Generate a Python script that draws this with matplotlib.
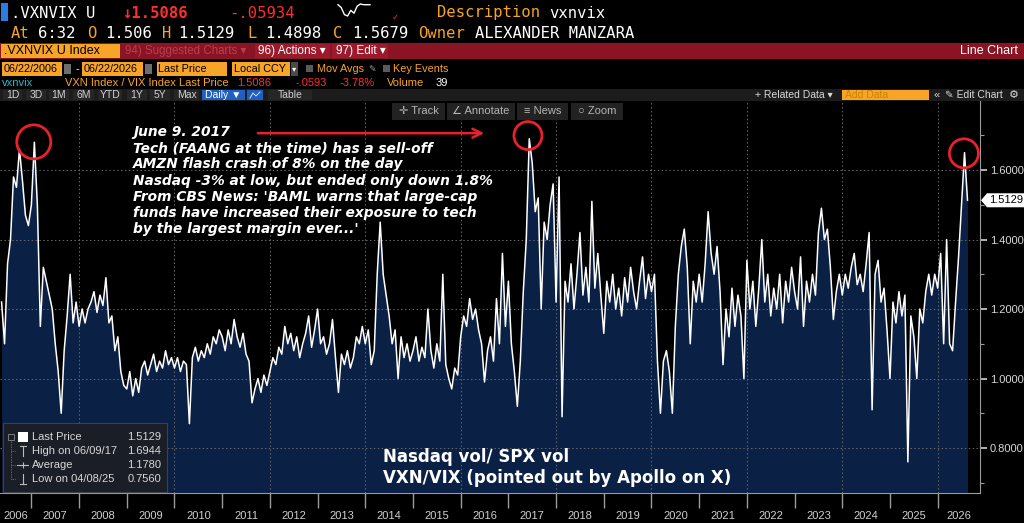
import numpy as np
import matplotlib
matplotlib.use('Agg')
import matplotlib.pyplot as plt
from matplotlib.patches import Rectangle, Polygon

plt.rcParams['font.family'] = ['Liberation Sans', 'DejaVu Sans']
MONO = ['DejaVu Sans Mono', 'DejaVu Sans']

# VXN / VIX ratio, one value every 1/16 of a year
t_start = 2006.375
t_step = 1 / 16
v2006 = [1.22, 1.10, 1.33, 1.40, 1.58, 1.55, 1.66, 1.57, 1.47, 1.44]
v2007 = [1.50, 1.68, 1.50, 1.15, 1.32, 1.28, 1.24, 1.20, 1.10, 1.02, 0.90, 1.08, 1.18, 1.30, 1.16, 1.22]
v2008 = [1.15, 1.20, 1.16, 1.20, 1.22, 1.25, 1.19, 1.24, 1.21, 1.29, 1.16, 1.18, 1.08, 1.12, 1.02, 0.98]
v2009 = [0.97, 1.02, 0.95, 1.00, 0.96, 1.03, 1.05, 1.01, 1.04, 1.07, 1.02, 1.05, 1.03, 1.08, 1.04, 1.06]
v2010 = [1.03, 1.06, 1.02, 1.05, 1.04, 0.87, 1.06, 1.09, 1.05, 1.08, 1.06, 1.10, 1.07, 1.12, 1.10, 1.14]
v2011 = [1.12, 1.08, 1.14, 1.10, 1.17, 1.12, 1.09, 1.13, 1.07, 1.05, 0.93, 0.97, 1.00, 0.96, 1.01, 0.98]
v2012 = [1.02, 1.06, 1.04, 1.09, 1.07, 1.15, 1.10, 1.13, 1.08, 1.12, 1.06, 1.10, 1.13, 1.18, 1.09, 1.14]
v2013 = [1.20, 1.10, 1.12, 1.07, 1.10, 1.17, 1.06, 0.96, 1.07, 1.04, 1.08, 1.03, 1.06, 1.12, 1.10, 1.15]
v2014 = [1.10, 1.14, 1.04, 1.08, 1.30, 1.45, 1.30, 1.24, 1.18, 1.10, 1.14, 1.00, 1.12, 1.06, 1.10, 1.05]
v2015 = [1.08, 1.12, 1.05, 1.09, 1.06, 1.20, 1.08, 1.03, 1.10, 1.05, 1.30, 1.04, 1.00, 0.97, 1.03, 1.01]
v2016 = [1.12, 1.18, 1.15, 1.23, 1.17, 1.20, 1.14, 1.10, 0.99, 1.08, 1.12, 1.05, 1.23, 1.10, 1.36, 1.15]
v2017 = [1.28, 1.10, 1.02, 0.92, 1.05, 1.25, 1.40, 1.69, 1.62, 1.48, 1.52, 1.20, 1.45, 1.40, 1.50, 1.56]
v2018 = [1.22, 1.58, 0.89, 1.28, 1.22, 1.33, 1.20, 1.30, 1.42, 1.24, 1.32, 1.22, 1.51, 1.26, 1.36, 1.24]
v2019 = [1.13, 1.28, 1.22, 1.30, 1.20, 1.26, 1.18, 1.29, 1.22, 1.32, 1.25, 1.20, 1.28, 1.35, 1.23, 1.30]
v2020 = [1.25, 1.30, 1.05, 0.90, 1.05, 1.08, 1.02, 0.90, 1.15, 1.30, 1.38, 1.43, 1.32, 1.10, 1.28, 1.22]
v2021 = [1.30, 1.22, 1.33, 1.48, 1.36, 1.30, 1.38, 1.25, 1.04, 1.20, 1.12, 1.26, 1.15, 1.24, 1.18, 1.00]
v2022 = [1.34, 1.20, 1.28, 1.15, 1.26, 1.40, 1.22, 1.30, 1.18, 1.26, 1.20, 1.30, 1.16, 1.28, 1.22, 1.32]
v2023 = [1.25, 1.20, 1.35, 1.15, 1.28, 1.22, 1.30, 1.24, 1.42, 1.49, 1.40, 1.43, 1.32, 1.17, 1.25, 1.30]
v2024 = [1.24, 1.30, 1.26, 1.32, 1.36, 1.27, 1.30, 1.25, 1.33, 1.42, 0.91, 1.30, 1.34, 1.22, 1.26, 1.14]
v2025 = [1.00, 1.22, 1.16, 1.25, 1.18, 1.24, 0.76, 1.18, 1.12, 1.00, 1.20, 1.16, 1.25, 1.30, 1.24, 1.30]
v2026 = [1.26, 1.36, 1.10, 1.40, 1.10, 1.08, 1.22, 1.35, 1.50, 1.65, 1.5129]

year_edges = list(range(2007, 2027))
year_labels = [str(y) for y in range(2006, 2027)]
y_ticks = [0.8, 1.0, 1.2, 1.4, 1.6]
y_minor = [0.7, 0.9, 1.1, 1.3, 1.5, 1.7]
x_lim = (2006.342, 2026.887)
y_lim = (0.6705, 1.7986)

last_price = 1.5129
legend_rows = [('Last Price', '1.5129'), ('High on 06/09/17', '1.6944'),
               ('Average', '1.1780'), ('Low on 04/08/25', '0.7560')]

# red circles around the three peaks (date, value, radius in px)
circle_t = [2007.05, 2017.41, 2026.55]
circle_v = [1.681, 1.699, 1.648]
circle_r = [17, 14, 14.5]

note_lines = ["June 9. 2017",
              "Tech (FAANG at the time) has a sell-off",
              "AMZN flash crash of 8% on the day",
              "Nasdaq -3% at low, but ended only down 1.8%",
              "From CBS News: 'BAML warns that large-cap",
              "funds have increased their exposure to tech",
              "by the largest margin ever...'"]
caption_lines = ["Nasdaq vol/ SPX vol", "VXN/VIX (pointed out by Apollo on X)"]

spark_vals = [1.57, 1.55, 1.50, 1.49, 1.53, 1.51, 1.56, 1.575, 1.57, 1.57, 1.57]

ORANGE = '#f7a428'
RED = '#ff2e2e'
NAVY = '#0a2045'

values = (v2006 + v2007 + v2008 + v2009 + v2010 + v2011 + v2012 + v2013 + v2014 + v2015
          + v2016 + v2017 + v2018 + v2019 + v2020 + v2021 + v2022 + v2023 + v2024 + v2025 + v2026)
t = t_start + t_step * np.arange(len(values))

fig = plt.figure(figsize=(10.24, 5.23), dpi=100, facecolor='black')
bg = fig.add_axes([0, 0, 1, 1], zorder=0)
bg.set_xlim(0, 1024)
bg.set_ylim(523, 0)
bg.axis('off')

ax = fig.add_axes([0, 30 / 523, 980 / 1024, 392 / 523], zorder=1)
top = fig.add_axes([0, 0, 1, 1], zorder=2)
top.set_xlim(0, 1024)
top.set_ylim(523, 0)
top.axis('off')


def txt(a, x, y, s, color='white', size=8, ha='left', family=None, **kw):
    a.text(x, y, s, color=color, fontsize=size, ha=ha, va='center',
           family=family if family else plt.rcParams['font.family'], **kw)


def box(a, x0, y0, x1, y1, color, **kw):
    a.add_patch(Rectangle((x0, y0), x1 - x0, y1 - y0, facecolor=color, edgecolor='none', **kw))


# ---- header rows ----
box(bg, 1, 3, 8, 21, '#2a7de1')
txt(bg, 11, 13, '.VXNVIX U', size=11.2, family=MONO)
txt(bg, 122, 13, '↓1.5086', RED, size=11.2, family=MONO, weight='bold')
txt(bg, 229, 13, '-.05934', RED, size=11.2, family=MONO)
sp = np.array(spark_vals)
sx = np.linspace(338, 370, len(sp))
bg.plot(sx, 4 + (sp.max() - sp) / (sp.max() - sp.min()) * 12, color='white', lw=1)
txt(bg, 392, 17, '✓', RED, size=6, family=['DejaVu Sans'])
txt(bg, 437, 13, 'Description', ORANGE, size=11.2, family=MONO)
txt(bg, 549, 13, 'vxnvix', size=11.2, family=MONO)

row2 = [(11, 'At', ORANGE), (38, '6:32', 'white'), (87, 'O', ORANGE), (105, '1.506', 'white'),
        (162, 'H', ORANGE), (178, '1.5129', 'white'), (247, 'L', ORANGE), (265, '1.4898', 'white'),
        (333, 'C', ORANGE), (352, '1.5679', 'white'), (418, 'Owner', ORANGE),
        (475, 'ALEXANDER MANZARA', 'white')]
for x, s, c in row2:
    txt(bg, x, 33, s, c, size=11.2, family=MONO)

# red command bar
box(bg, 0, 43, 1024, 59, '#8a1424')
box(bg, 1, 44, 120, 58, ORANGE)
txt(bg, 4, 51, '.VXNVIX U Index', 'black', size=9)
txt(bg, 125, 51, '94) Suggested Charts ▾', '#b5404e', size=8.3)
box(bg, 255, 44, 330, 58, '#9c1a2c')
box(bg, 332, 44, 388, 58, '#9c1a2c')
txt(bg, 258, 51, '96) Actions ▾', size=8.5)
txt(bg, 336, 51, '97) Edit ▾', size=8.5)
txt(bg, 1018, 51, 'Line Chart', size=9, ha='right')

# date / settings row
for x0, x1, s in [(2, 62, '06/22/2006'), (82, 143, '06/22/2026'),
                  (157, 227, 'Last Price'), (232, 290, 'Local CCY')]:
    box(bg, x0, 62, x1, 76, ORANGE)
    txt(bg, x0 + 1.5, 69, s, 'black', size=7.8)
box(bg, 64, 64, 71, 74, '#6e6e6e')
box(bg, 145, 64, 152, 74, '#6e6e6e')
txt(bg, 75, 69, '-', size=8)
box(bg, 291, 62, 298, 76, '#4a4a4a')
txt(bg, 294.5, 69, '▾', size=6, ha='center', family=['DejaVu Sans'])
box(bg, 306, 65, 313, 72, '#5a5a5a')
txt(bg, 317, 69, 'Mov Avgs', ORANGE, size=7.8)
txt(bg, 368, 69, '✎', '#9a9a9a', size=6.5, family=['DejaVu Sans'])
box(bg, 383, 65, 390, 72, '#5a5a5a')
txt(bg, 393, 69, 'Key Events', ORANGE, size=7.8)

# security description row
txt(bg, 2, 83, 'vxnvix', '#2fb5c9', size=8)
txt(bg, 65, 83, 'VXN Index / VIX Index Last Price', ORANGE, size=8)
txt(bg, 237, 83, '1.5086', RED, size=8)
txt(bg, 295, 83, '-.0593', RED, size=8)
txt(bg, 340, 83, '-3.78%', RED, size=8)
txt(bg, 387, 83, 'Volume', ORANGE, size=8)
txt(bg, 436, 83, '39', size=8)

# period buttons row
box(bg, 0, 89, 1024, 101, '#1c1c1c')
for s, x0, x1 in [('1D', 3, 22), ('3D', 26, 46), ('1M', 49, 69), ('6M', 73, 94),
                  ('YTD', 98, 122), ('1Y', 127, 147), ('5Y', 150, 170), ('Max', 174, 199),
                  ('Table', 268, 312)]:
    box(bg, x0, 90, x1, 100, '#262626')
    txt(bg, (x0 + x1) / 2, 95, s, '#d0d0d0', size=7.5, ha='center')
box(bg, 202, 90, 245, 100, '#1f5fc2')
txt(bg, 223.5, 95, 'Daily ▼', size=7.5, ha='center')
box(bg, 247, 90, 263, 100, '#1f5fc2')
bg.plot([250, 253, 256, 260], [98, 93, 96, 92], color='#cfe0ff', lw=0.7)
txt(bg, 755, 95, '+ Related Data ▾', '#d8d8d8', size=7.5)
box(bg, 842, 90, 929, 100, ORANGE)
txt(bg, 845, 95, 'Add Data', '#c98400', size=7.5)
txt(bg, 933, 95, '«', '#d8d8d8', size=8)
txt(bg, 945, 95, '✎ Edit Chart', '#d8d8d8', size=7.5)
txt(bg, 1014, 95, '⚙', '#d8d8d8', size=8, ha='center', family=['DejaVu Sans'])

# ---- main chart ----
ax.set_facecolor('black')
ax.set_xlim(*x_lim)
ax.set_ylim(*y_lim)
ax.fill_between(t, values, y_lim[0], color=NAVY, lw=0, zorder=1)
for y in y_ticks:
    ax.axhline(y, color='#6a6a6a', lw=0.7, ls=(0, (1.5, 2.5)), zorder=1.5)
for yr in year_edges[1::2]:
    ax.axvline(yr, color='#6a6a6a', lw=0.7, ls=(0, (1.5, 2.5)), zorder=1.5)
ax.plot(t, values, color='white', lw=1.1, zorder=2)

for s in ['left', 'top']:
    ax.spines[s].set_visible(False)
for s in ['right', 'bottom']:
    ax.spines[s].set_color('#9a9a9a')

ax.yaxis.tick_right()
ax.set_yticks(y_ticks, labels=[f'{v:.4f}' for v in y_ticks])
ax.set_yticks(y_minor, minor=True)
ax.tick_params(axis='y', which='major', length=5, width=1.2, color='#d0d0d0',
               labelcolor='#d8d8d8', labelsize=8, pad=2)
ax.tick_params(axis='y', which='minor', length=3, width=0.8, color='#9a9a9a')

centers = [(max(y, x_lim[0]) + min(y + 1, x_lim[1])) / 2 for y in range(2006, 2027)]
ax.set_xticks(year_edges, labels=[''] * len(year_edges))
ax.set_xticks(centers, labels=year_labels, minor=True)
ax.tick_params(axis='x', which='major', length=11, width=1, color='#9a9a9a')
ax.tick_params(axis='x', which='minor', length=0, pad=13, labelsize=8, labelcolor='#d0d0d0')

# red circles and arrow
ax.scatter(circle_t, circle_v, s=(np.array(circle_r) * 2 * 0.72) ** 2, facecolors='none',
           edgecolors='#e8212b', linewidths=2, zorder=5, clip_on=False)
ax.annotate('', xy=(2016.55, 1.706), xytext=(2011.69, 1.706),
            arrowprops=dict(arrowstyle='->', color='#e8212b', lw=1.8, mutation_scale=16), zorder=5)

# ---- overlays in pixel space ----
for s, x0, x1 in [('✛ Track', 392, 445), ('∠ Annotate', 447, 515),
                  ('≡ News', 517, 568), ('○ Zoom', 571, 623)]:
    box(top, x0, 103, x1, 120, '#222222')
    txt(top, (x0 + x1) / 2, 111.5, s, '#b5b5b5', size=8, ha='center')

for i, s in enumerate(note_lines):
    txt(top, 133, 132 + i * 16.2, s, size=9.95, weight='bold', style='oblique',
        family=['DejaVu Sans'])

for i, s in enumerate(caption_lines):
    txt(top, 383, 457 + i * 21, s, size=12, weight='bold', family=['DejaVu Sans'])

# last price tag on the axis
ly = 523 - ax.transData.transform((t[-1], last_price))[1]
top.add_patch(Polygon([(981, ly), (987, ly - 7), (1024, ly - 7), (1024, ly + 7), (987, ly + 7)],
                      closed=True, facecolor='white', edgecolor='none'))
txt(top, 989, ly, f'{last_price:.4f}', 'black', size=8)

# legend box
top.add_patch(Rectangle((3, 423), 164, 69, facecolor='#1a1e26', edgecolor='#3c424c', lw=0.8))
row_y = [437, 451, 465, 479]
top.plot([11, 11], [440, 479], color='#7a7a7a', lw=0.6, ls=(0, (1, 1)))
for y in row_y[1:]:
    top.plot([11, 16], [y, y], color='#7a7a7a', lw=0.6, ls=(0, (1, 1)))
top.add_patch(Rectangle((8, 434), 6, 6, facecolor='none', edgecolor='#8a8a8a', lw=0.6))
top.add_patch(Rectangle((18, 432), 10, 10, facecolor='white'))
top.plot([20, 26], [446, 446], color='#bbbbbb', lw=0.8)
top.plot([23, 23], [446, 456], color='#bbbbbb', lw=0.8)
top.plot([17, 28], [465, 465], color='#bbbbbb', lw=0.8)
top.plot([23], [465], marker='+', color='#bbbbbb', ms=4, mew=0.8)
top.plot([23, 23], [474, 484], color='#bbbbbb', lw=0.8)
top.plot([20, 26], [484, 484], color='#bbbbbb', lw=0.8)
for (lab, val), y in zip(legend_rows, row_y):
    txt(top, 32, y, lab, '#d8d8d8', size=8)
    txt(top, 161, y, val, '#d8d8d8', size=8, ha='right')

fig.savefig('out.png', dpi=100, facecolor='black')
